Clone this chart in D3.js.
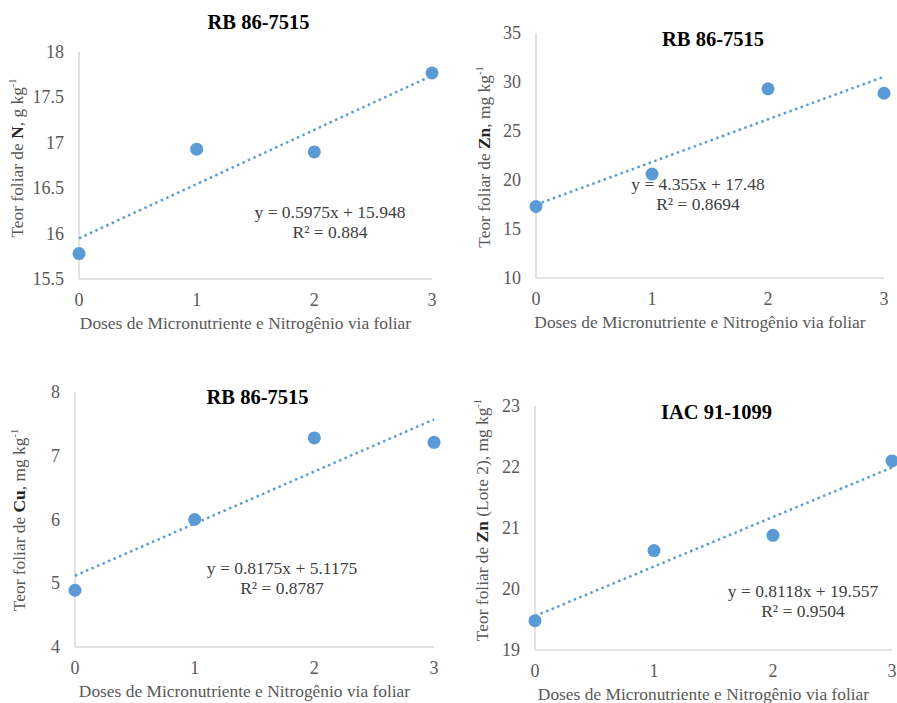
<!DOCTYPE html>
<html>
<head>
<meta charset="utf-8">
<script src="https://cdn.jsdelivr.net/npm/d3@7"></script>
<style>
  body { margin: 0; background: #fff; }
  svg { display: block; font-family: "Liberation Serif", "Times New Roman", serif; }
</style>
</head>
<body>
<svg id="chart" width="897" height="703"></svg>
<script>
// doses (x) shared by every panel
const doses = [0, 1, 2, 3];
const xTicks = [0, 1, 2, 3];

// values
const nRB = [15.78, 16.93, 16.90, 17.77];
const znRB = [17.3, 20.6, 29.3, 28.85];
const cuRB = [4.89, 6.0, 7.28, 7.21];
const znIAC = [19.48, 20.63, 20.88, 22.1];

// trendline coefficients (slope, intercept) and R² as printed
const slopes = [0.5975, 4.355, 0.8175, 0.8118];
const intercepts = [15.948, 17.48, 5.1175, 19.557];
const r2 = ["0.884", "0.8694", "0.8787", "0.9504"];

const titles = ["RB 86-7515", "RB 86-7515", "RB 86-7515", "IAC 91-1099"];
const yDomains = [[15.5, 18], [10, 35], [4, 8], [19, 23]];
const yTicks = [
	[15.5, 16, 16.5, 17, 17.5, 18],
	[10, 15, 20, 25, 30, 35],
	[4, 5, 6, 7, 8],
	[19, 20, 21, 22, 23],
];
const xTitle = "Doses de Micronutriente e Nitrogênio via foliar";

const blue = "#5b9bd5";
const svg = d3.select("#chart");

// panel layout: plot area and positions of the texts
const panels = [
	{ values: nRB, box: [79, 52, 432, 279], titleY: 29, eq: [330, 218], yTitle: [23, 158],
		yLabel: ["Teor foliar de ", "N", ", g kg", "-1"] },
	{ values: znRB, box: [536, 33, 884, 278], titleY: 46, eq: [698, 190], yTitle: [490, 157],
		yLabel: ["Teor foliar de ", "Zn", ", mg kg", "-1"] },
	{ values: cuRB, box: [75, 392, 434, 647], titleY: 404, eq: [282, 574], yTitle: [25, 520],
		yLabel: ["Teor foliar de ", "Cu", ", mg kg", "-1"] },
	{ values: znIAC, box: [535, 406, 892, 650], titleY: 419, eq: [803, 597], yTitle: [488, 520],
		yLabel: ["Teor foliar de ", "Zn", " (Lote 2), mg kg", "-1"] },
];

panels.forEach((p, i) => {
	const [x0, y0, x1, y1] = p.box;
	const x = d3.scaleLinear().domain([0, 3]).range([x0, x1]);
	const y = d3.scaleLinear().domain(yDomains[i]).range([y1, y0]);
	const g = svg.append("g");

	// axis lines
	g.append("line").attr("x1", x0).attr("x2", x0).attr("y1", y0).attr("y2", y1)
		.attr("stroke", "#d9d9d9").attr("stroke-width", 1.5);
	g.append("line").attr("x1", x0).attr("x2", x1).attr("y1", y1).attr("y2", y1)
		.attr("stroke", "#d9d9d9").attr("stroke-width", 1.5);

	// y tick labels
	g.selectAll(".yt").data(yTicks[i]).enter().append("text")
		.attr("x", x0 - 15)
		.attr("y", (d) => y(d) + 6)
		.attr("text-anchor", "end")
		.attr("font-size", 18)
		.attr("fill", "#595959")
		.text((d) => d);

	// x tick labels
	g.selectAll(".xt").data(xTicks).enter().append("text")
		.attr("x", (d) => x(d))
		.attr("y", y1 + 27)
		.attr("text-anchor", "middle")
		.attr("font-size", 18)
		.attr("fill", "#595959")
		.text((d) => d);

	// x axis title
	g.append("text")
		.attr("x", (x0 + x1) / 2 - 10)
		.attr("y", y1 + 50)
		.attr("text-anchor", "middle")
		.attr("font-size", 17.4)
		.attr("fill", "#595959")
		.text(xTitle);

	// y axis title
	const yt = g.append("text")
		.attr("transform", `translate(${p.yTitle[0]},${p.yTitle[1]}) rotate(-90)`)
		.attr("text-anchor", "middle")
		.attr("font-size", 17.4)
		.attr("fill", "#595959");
	yt.append("tspan").text(p.yLabel[0]);
	yt.append("tspan").attr("font-weight", "bold").attr("fill", "#262626").text(p.yLabel[1]);
	yt.append("tspan").text(p.yLabel[2]);
	yt.append("tspan").attr("font-size", 10.5).attr("dy", -7).text(p.yLabel[3]);

	// chart title
	g.append("text")
		.attr("x", (x0 + x1) / 2 + 3)
		.attr("y", p.titleY)
		.attr("text-anchor", "middle")
		.attr("font-size", 20.5)
		.attr("font-weight", "bold")
		.attr("fill", "#000")
		.text(titles[i]);

	// trendline
	const fit = (d) => slopes[i] * d + intercepts[i];
	g.append("line")
		.attr("x1", x(0)).attr("y1", y(fit(0)))
		.attr("x2", x(3)).attr("y2", y(fit(3)))
		.attr("stroke", blue)
		.attr("stroke-width", 2.5)
		.attr("stroke-dasharray", "2.5,3.5");

	// points
	g.selectAll(".pt").data(doses).enter().append("circle")
		.attr("cx", (d) => x(d))
		.attr("cy", (d, j) => y(p.values[j]))
		.attr("r", 6.5)
		.attr("fill", blue);

	// equation
	const eq = g.append("text")
		.attr("text-anchor", "middle")
		.attr("font-size", 17.5)
		.attr("fill", "#404040");
	eq.append("tspan").attr("x", p.eq[0]).attr("y", p.eq[1])
		.text(`y = ${slopes[i]}x + ${intercepts[i]}`);
	eq.append("tspan").attr("x", p.eq[0]).attr("y", p.eq[1] + 20)
		.text(`R² = ${r2[i]}`);
});
</script>
</body>
</html>
